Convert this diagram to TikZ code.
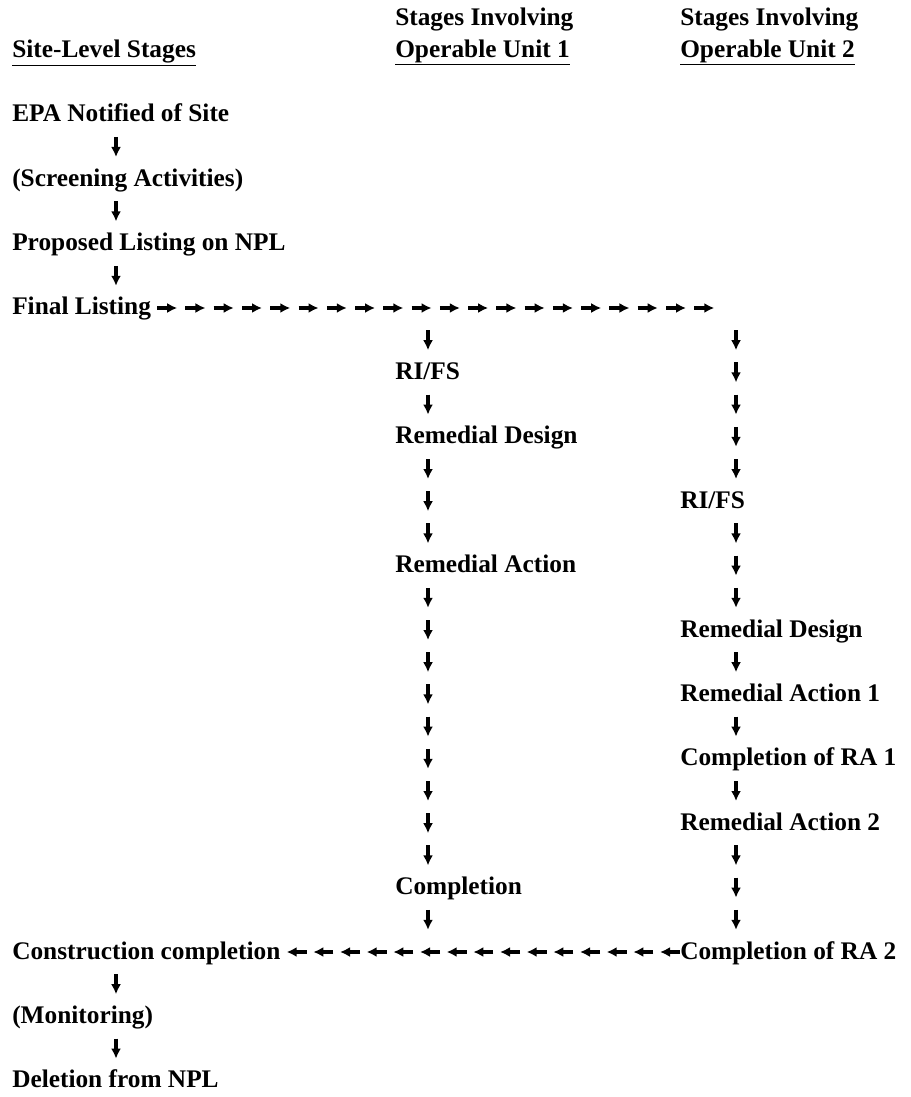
\documentclass[tikz,border=0pt]{standalone}
\usepackage{fontspec}
\setmainfont{Liberation Serif}
\usetikzlibrary{arrows.meta,decorations.markings}

\tikzset{
	stage/.style={anchor=west, inner sep=0pt, text height=13.5pt, text depth=3pt,
		font=\bfseries\fontsize{19}{23}\selectfont},
	glyph/.style={line width=2.3pt, -{Latex[length=7.5pt,width=7.5pt]}},
	downchain/.style={decorate, decoration={markings,
		mark=between positions 24.15pt and -12pt step 24.15pt with {\draw[glyph] (-7.5pt,0) -- (7.5pt,0);}}},
	rightchain/.style={decorate, decoration={markings,
		mark=between positions 12pt and -8pt step 21.2pt with {\draw[glyph] (-7.5pt,0) -- (7.5pt,0);}}},
	leftchain/.style={decorate, decoration={markings,
		mark=between positions 7.5pt and -3pt step 20pt with {\draw[glyph] (-7.5pt,0) -- (7.5pt,0);}}},
}

\begin{document}
\begin{tikzpicture}[x=0.75pt, y=-24.15pt]
			\useasboundingbox (0,-9.565) rectangle (910,24.503);

			% column headings
			\node[stage] (hd1) at (395,-9) {Stages Involving};
			\node[stage] (hd2) at (680,-9) {Stages Involving};
			\node[stage] (site) at (12,-8) {\underline{Site-Level Stages}};
			\node[stage] (ou1) at (395,-8) {\underline{Operable Unit 1}};
			\node[stage] (ou2) at (680,-8) {\underline{Operable Unit 2}};

			% site-level stages
			\node[stage] (epa) at (12,-6) {EPA Notified of Site};
			\node[stage] (scr) at (12,-4) {(Screening Activities)};
			\node[stage] (prop) at (12,-2) {Proposed Listing on NPL};
			\node[stage] (final) at (12,0) {Final Listing};
			\node[stage] (cc) at (12,20) {Construction completion};
			\node[stage] (mon) at (12,22) {(Monitoring)};
			\node[stage] (del) at (12,24) {Deletion from NPL};

			% operable unit 1
			\node[stage] (rifsa) at (395,2) {RI/FS};
			\node[stage] (rda) at (395,4) {Remedial Design};
			\node[stage] (raa) at (395,8) {Remedial Action};
			\node[stage] (compa) at (395,18) {Completion};

			% operable unit 2
			\node[stage] (rifsb) at (680,6) {RI/FS};
			\node[stage] (rdb) at (680,10) {Remedial Design};
			\node[stage] (raone) at (680,12) {Remedial Action 1};
			\node[stage] (craone) at (680,14) {Completion of RA 1};
			\node[stage] (ratwo) at (680,16) {Remedial Action 2};
			\node[stage] (cratwo) at (680,20) {Completion of RA 2};

			\coordinate (c0) at (116,0);
			\coordinate (c1) at (428,0);
			\coordinate (c2) at (736,0);

			\foreach \a/\b in {epa/scr, scr/prop, prop/final, cc/mon, mon/del}
				\path[downchain] (\a -| c0) -- (\b -| c0);
			\foreach \a/\b in {final/rifsa, rifsa/rda, rda/raa, raa/compa, compa/cc}
				\path[downchain] (\a -| c1) -- (\b -| c1);
			\foreach \a/\b in {final/rifsb, rifsb/rdb, rdb/raone, raone/craone, craone/ratwo, ratwo/cratwo}
				\path[downchain] (\a -| c2) -- (\b -| c2);

			\path[rightchain] (final.east) -- (final -| c2);
			\path[leftchain] (cratwo.west) -- (cc.east);
		\end{tikzpicture}
\end{document}
